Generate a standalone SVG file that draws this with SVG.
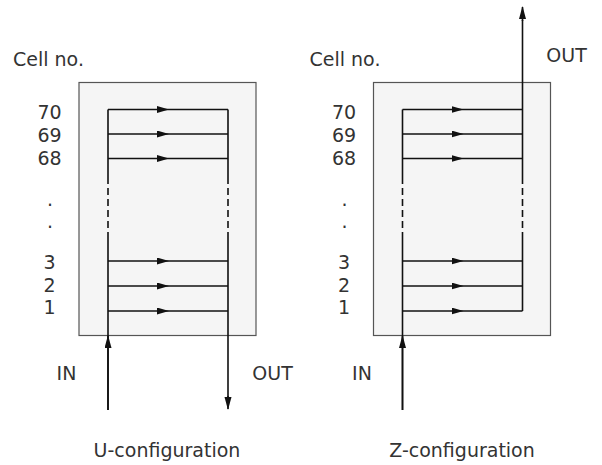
<svg xmlns="http://www.w3.org/2000/svg" width="602" height="465" viewBox="0 0 602 465">
  <style>
    .box { fill: #f5f5f5; stroke: #555; stroke-width: 1.2; }
    .ln { fill: none; stroke: #111; stroke-width: 1.6; }
    .dash { fill: none; stroke: #111; stroke-width: 1.6; stroke-dasharray: 7 4; }
    .t { font-family: "DejaVu Sans", "Liberation Sans", sans-serif; font-size: 19px; fill: #333; }
    .c { text-anchor: middle; }
  </style>
  <defs>
    <marker id="arr" markerUnits="userSpaceOnUse" markerWidth="12" markerHeight="8" refX="10" refY="3.5" orient="auto">
      <path d="M0,0 L12,3.5 L0,7 z" fill="#111"/>
    </marker>
    <marker id="arrV" markerUnits="userSpaceOnUse" markerWidth="13" markerHeight="8" refX="12" refY="3.5" orient="auto">
      <path d="M0,0 L13,3.5 L0,7 z" fill="#111"/>
    </marker>
  </defs>

  <!-- U-configuration -->
  <g id="u-box">
    <rect class="box" x="79" y="82.5" width="177" height="253"/>
  </g>
  <g id="u-labels">
    <text class="t" x="13" y="66">Cell no.</text>
    <text class="t c" x="49.5" y="119">70</text>
    <text class="t c" x="49.5" y="142">69</text>
    <text class="t c" x="49.5" y="165">68</text>
    <text class="t c" x="50" y="205.5">.</text>
    <text class="t c" x="50" y="228">.</text>
    <text class="t c" x="49.5" y="269">3</text>
    <text class="t c" x="49.5" y="292">2</text>
    <text class="t c" x="49.5" y="314">1</text>
    <text class="t c" x="66.5" y="380">IN</text>
    <text class="t c" x="272.5" y="380">OUT</text>
    <text class="t c" x="167" y="457">U-configuration</text>
  </g>

  <!-- Z-configuration -->
  <g id="z-box">
    <rect class="box" x="373.5" y="82.5" width="177" height="253"/>
  </g>
  <g id="z-labels">
    <text class="t" x="309.5" y="66">Cell no.</text>
    <text class="t c" x="344" y="119">70</text>
    <text class="t c" x="344" y="142">69</text>
    <text class="t c" x="344" y="165">68</text>
    <text class="t c" x="344.5" y="205.5">.</text>
    <text class="t c" x="344.5" y="228">.</text>
    <text class="t c" x="344" y="269">3</text>
    <text class="t c" x="344" y="292">2</text>
    <text class="t c" x="344" y="314">1</text>
    <text class="t c" x="362" y="380">IN</text>
    <text class="t c" x="566.5" y="62">OUT</text>
    <text class="t c" x="462" y="457">Z-configuration</text>
  </g>

  <g id="connectors">
    <!-- U: manifolds -->
    <path class="ln" d="M108,109.5 V184 M108,234 V410"/>
    <path class="dash" d="M108,188 V234"/>
    <path class="ln" d="M228,109.5 V184 M228,234 V397"/>
    <path class="dash" d="M228,188 V234"/>
    <!-- U: cells -->
    <path class="ln" marker-mid="url(#arr)" d="M108,109.5 L167,109.5 L228,109.5"/>
    <path class="ln" marker-mid="url(#arr)" d="M108,134 L167,134 L228,134"/>
    <path class="ln" marker-mid="url(#arr)" d="M108,158.5 L167,158.5 L228,158.5"/>
    <path class="ln" marker-mid="url(#arr)" d="M108,261 L167,261 L228,261"/>
    <path class="ln" marker-mid="url(#arr)" d="M108,286 L167,286 L228,286"/>
    <path class="ln" marker-mid="url(#arr)" d="M108,311 L167,311 L228,311"/>
    <!-- U: IN / OUT -->
    <path class="ln" marker-end="url(#arrV)" d="M108,410 V336"/>
    <path class="ln" marker-end="url(#arrV)" d="M228,396 V409"/>

    <!-- Z: manifolds -->
    <path class="ln" d="M402.5,109.5 V184 M402.5,234 V410"/>
    <path class="dash" d="M402.5,188 V234"/>
    <path class="ln" d="M522.5,311 V234 M522.5,184 V20"/>
    <path class="dash" d="M522.5,188 V234"/>
    <!-- Z: cells -->
    <path class="ln" marker-mid="url(#arr)" d="M402.5,109.5 L461.5,109.5 L522.5,109.5"/>
    <path class="ln" marker-mid="url(#arr)" d="M402.5,134 L461.5,134 L522.5,134"/>
    <path class="ln" marker-mid="url(#arr)" d="M402.5,158.5 L461.5,158.5 L522.5,158.5"/>
    <path class="ln" marker-mid="url(#arr)" d="M402.5,261 L461.5,261 L522.5,261"/>
    <path class="ln" marker-mid="url(#arr)" d="M402.5,286 L461.5,286 L522.5,286"/>
    <path class="ln" marker-mid="url(#arr)" d="M402.5,311 L461.5,311 L522.5,311"/>
    <!-- Z: IN / OUT -->
    <path class="ln" marker-end="url(#arrV)" d="M402.5,410 V336"/>
    <path class="ln" marker-end="url(#arrV)" d="M522.5,21 V7"/>
  </g>
</svg>
